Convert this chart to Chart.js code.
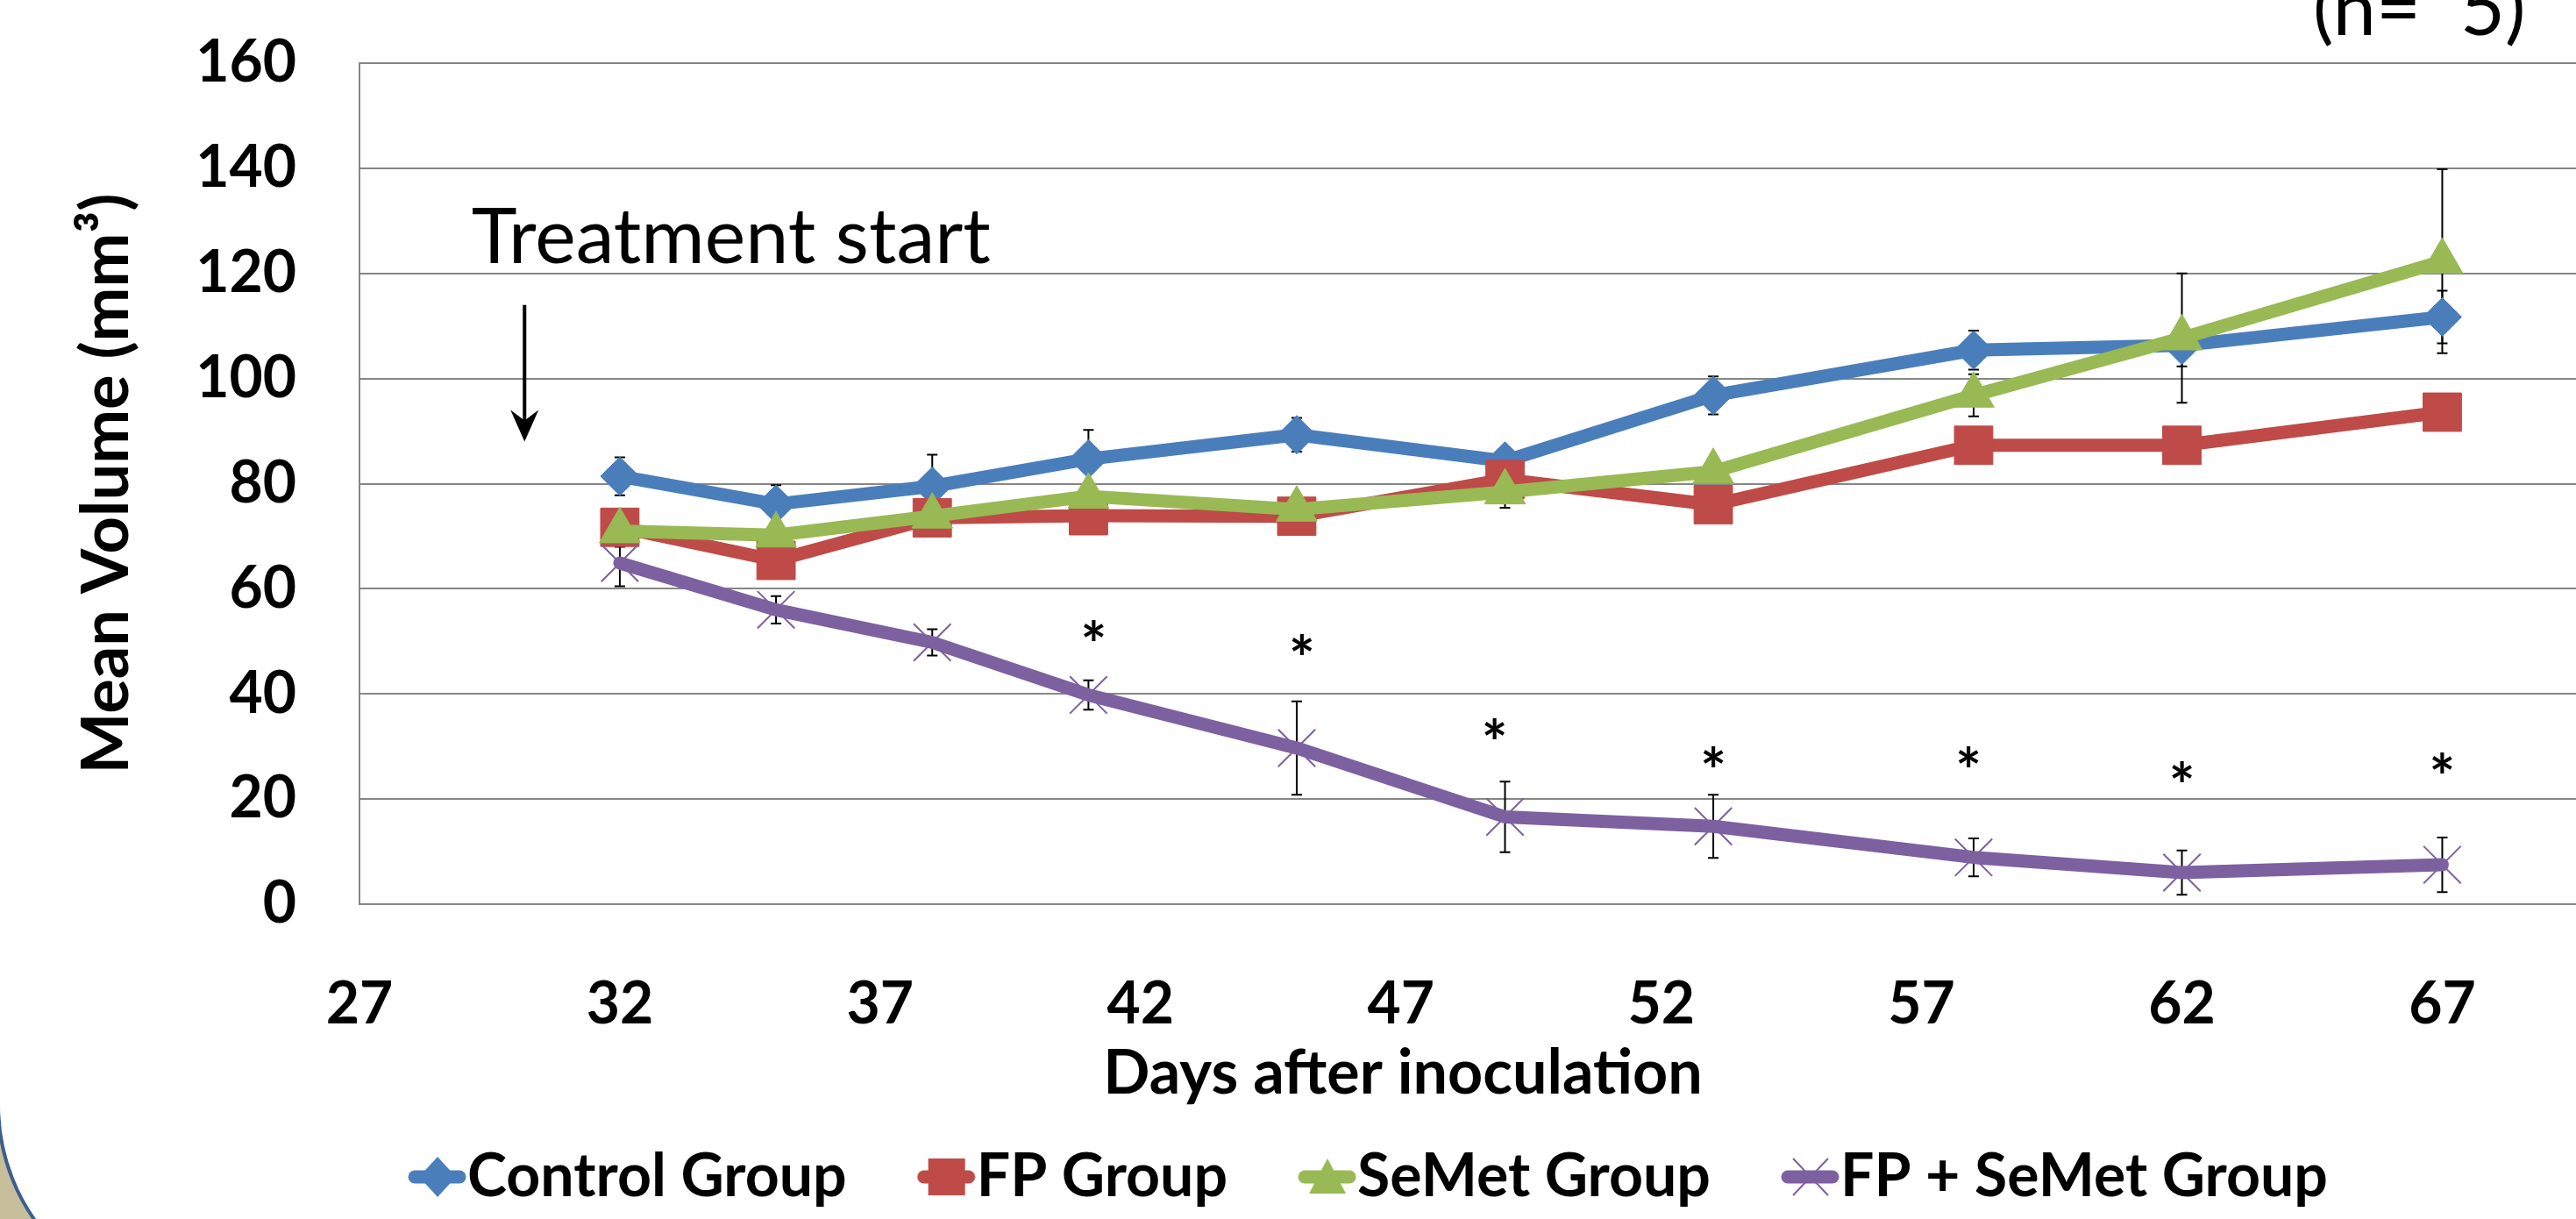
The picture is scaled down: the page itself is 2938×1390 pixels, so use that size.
<!DOCTYPE html>
<html>
<head>
<meta charset="utf-8">
<title>Mean tumour volume</title>
<script src="https://cdn.jsdelivr.net/npm/chart.js@4.4.1/dist/chart.umd.min.js"></script>
<style>
  html, body { margin: 0; padding: 0; background: #fff; }
  body { width: 2938px; height: 1390px; overflow: hidden; position: relative; }
  /* slide decoration in the lower left corner */
  #corner { position: absolute; left: 0; top: 1150px; width: 300px; height: 240px; background: #C7BF9B; }
  #panel { position: absolute; left: -4px; top: -300px; width: 3400px; height: 1790px; box-sizing: border-box;
           background: #fff; border: 4px solid #3B5F8E; border-radius: 230px; }
  #chart { position: absolute; left: 0; top: 0; }
</style>
</head>
<body>
<div id="corner"></div>
<div id="panel"></div>
<canvas id="chart" width="3055" height="1390"></canvas>
<script>
// days after inoculation where volumes were measured
const days = [32, 35, 38, 41, 45, 49, 53, 58, 62, 67];

// mean volume (mm3) and error per group
const controlGroup = [81.4, 76.1, 79.5, 84.7, 89.3, 84.3, 96.8, 105.4, 106.3, 111.7];
const controlErr   = [3.6, 3.6, 6.0, 5.5, 3.2, 2.4, 3.6, 3.7, 4.0, 5.0];
const fpGroup      = [71.7, 65.4, 73.5, 73.9, 73.8, 80.8, 76.0, 87.3, 87.3, 93.6];
const fpErr        = [3.0, 2.5, 3.0, 3.0, 2.5, 3.0, 2.5, 3.0, 3.0, 3.0];
const semetGroup   = [71.0, 70.2, 73.8, 77.6, 75.1, 78.4, 82.3, 96.8, 107.7, 122.3];
const semetErr     = [3.0, 2.5, 3.0, 2.5, 2.4, 3.0, 2.0, 4.0, 12.3, 17.5];
const comboGroup   = [64.9, 56.0, 49.8, 39.8, 29.7, 16.6, 14.8, 8.9, 6.0, 7.5];
const comboErr     = [4.4, 2.6, 2.5, 2.8, 8.9, 6.7, 6.0, 3.6, 4.2, 5.2];

// significance marks (*) above the FP + SeMet group
const sigDays   = [41.1, 45.1, 48.8, 53, 57.9, 62, 67];
const sigLevels = [52.1, 49.4, 33.5, 28.1, 28.1, 25.3, 26.9];

const xTicks = [27, 32, 37, 42, 47, 52, 57, 62, 67];
const yTicks = [0, 20, 40, 60, 80, 100, 120, 140, 160];

const seriesNames  = ['Control Group', 'FP Group', 'SeMet Group', 'FP + SeMet Group'];
const seriesColors = ['#4A7EBB', '#BE4B48', '#98B954', '#7D60A0'];

Chart.defaults.font.family = 'Lato';
Chart.defaults.color = '#000';

const toPoints = (vals) => vals.map((v, i) => ({ x: days[i], y: v }));

// legend icon: line segment with the marker in the middle, drawn at the right end of the image
const LEGEND_BOX = 104;
function makeIcon(idx) {
    const w = LEGEND_BOX + 66, h = 64;
    const c = document.createElement('canvas');
    c.width = w; c.height = h;
    const g = c.getContext('2d');
    const col = seriesColors[idx];
    const cx = w - 33, cy = h / 2;
    g.strokeStyle = col;
    g.lineWidth = 15;
    g.lineCap = 'round';
    g.beginPath(); g.moveTo(w - 59, cy); g.lineTo(w - 8, cy); g.stroke();
    g.fillStyle = col;
    g.beginPath();
    if (idx === 0) {
        g.moveTo(cx, cy - 23); g.lineTo(cx + 21, cy); g.lineTo(cx, cy + 23); g.lineTo(cx - 21, cy);
        g.closePath(); g.fill();
    } else if (idx === 1) {
        g.rect(cx - 21, cy - 21, 42, 42); g.fill();
    } else if (idx === 2) {
        g.moveTo(cx, cy - 21); g.lineTo(cx + 21, cy + 19); g.lineTo(cx - 21, cy + 19);
        g.closePath(); g.fill();
    } else {
        g.lineWidth = 2; g.lineCap = 'butt';
        g.moveTo(cx - 20, cy - 21); g.lineTo(cx + 20, cy + 21);
        g.moveTo(cx + 20, cy - 21); g.lineTo(cx - 20, cy + 21);
        g.stroke();
    }
    return c;
}
const legendIcons = [0, 1, 2, 3].map(makeIcon);

// error bars go under the lines and markers
const errorBars = {
    id: 'errorBars',
    beforeDatasetsDraw(chart) {
        const { ctx, scales: { x, y } } = chart;
        ctx.save();
        ctx.strokeStyle = '#000';
        ctx.lineWidth = 2;
        chart.data.datasets.forEach(ds => {
            ds.data.forEach((p, i) => {
                const px = x.getPixelForValue(p.x);
                const top = y.getPixelForValue(p.y + ds.errors[i]);
                const bot = y.getPixelForValue(p.y - ds.errors[i]);
                ctx.beginPath();
                ctx.moveTo(px, top); ctx.lineTo(px, bot);
                ctx.moveTo(px - 6, top); ctx.lineTo(px + 6, top);
                ctx.moveTo(px - 6, bot); ctx.lineTo(px + 6, bot);
                ctx.stroke();
            });
        });
        ctx.restore();
    }
};

// asterisks, treatment arrow and the extra labels
const notes = {
    id: 'notes',
    afterDraw(chart) {
        const { ctx, chartArea, scales: { x, y } } = chart;
        ctx.save();
        ctx.fillStyle = '#000';

        // centre each asterisk glyph on its level
        ctx.font = 'bold 70px Lato';
        ctx.textAlign = 'center';
        ctx.textBaseline = 'alphabetic';
        const m = ctx.measureText('*');
        const lift = (m.actualBoundingBoxAscent - m.actualBoundingBoxDescent) / 2;
        sigDays.forEach((d, i) => {
            ctx.fillText('*', x.getPixelForValue(d), y.getPixelForValue(sigLevels[i]) + lift);
        });

        ctx.font = '88px Lato';
        ctx.textAlign = 'left';
        ctx.fillText('Treatment start', x.getPixelForValue(29.15), y.getPixelForValue(121.9));

        // arrow pointing down at treatment start
        const ax = x.getPixelForValue(30.17);
        const aTop = y.getPixelForValue(114);
        const aTip = y.getPixelForValue(88);
        ctx.strokeStyle = '#000';
        ctx.lineWidth = 4;
        ctx.beginPath(); ctx.moveTo(ax, aTop); ctx.lineTo(ax, aTip - 20); ctx.stroke();
        ctx.beginPath();
        ctx.moveTo(ax, aTip);
        ctx.lineTo(ax - 16, aTip - 36);
        ctx.lineTo(ax, aTip - 24);
        ctx.lineTo(ax + 16, aTip - 36);
        ctx.closePath(); ctx.fill();

        ctx.font = '88px Lato';
        ctx.fillText('(n=  5)', chartArea.left + 2228, chartArea.top - 32);

        ctx.font = 'bold 70px Lato';
        ctx.textAlign = 'center';
        ctx.fillText('Days after inoculation', chartArea.left + 1190, chartArea.bottom + 216);
        ctx.restore();
    }
};

const markerStyles = ['rectRot', 'rect', 'triangle', 'crossRot'];
const markerRadius = [22, 31, 27, 30];
const seriesValues = [controlGroup, fpGroup, semetGroup, comboGroup];
const seriesErrors = [controlErr, fpErr, semetErr, comboErr];

const datasets = seriesNames.map((name, i) => ({
    label: name,
    data: toPoints(seriesValues[i]),
    errors: seriesErrors[i],
    borderColor: seriesColors[i],
    backgroundColor: seriesColors[i],
    borderWidth: 15,
    borderJoinStyle: 'round',
    borderCapStyle: 'round',
    tension: 0,
    pointStyle: markerStyles[i],
    pointRadius: markerRadius[i],
    pointHoverRadius: markerRadius[i],
    pointBackgroundColor: seriesColors[i],
    pointBorderColor: seriesColors[i],
    pointBorderWidth: i === 3 ? 2 : 1,
    order: 4 - i
}));

new Chart(document.getElementById('chart'), {
    type: 'line',
    data: { datasets: datasets },
    options: {
        responsive: false,
        animation: false,
        events: [],
        layout: { padding: { top: 72, left: 0, right: 5, bottom: 4 } },
        scales: {
            x: {
                type: 'linear',
                min: 27,
                max: 71,
                afterBuildTicks: s => { s.ticks = xTicks.map(v => ({ value: v })); },
                afterFit: s => { s.height = 267; },
                ticks: { padding: 75, autoSkip: false, maxRotation: 0, color: '#000', font: { size: 66, weight: 'bold' } },
                grid: { display: false, drawTicks: false },
                border: { display: false }
            },
            y: {
                min: 0,
                max: 160,
                afterBuildTicks: s => { s.ticks = yTicks.map(v => ({ value: v })); },
                afterFit: s => { s.width = 410; },
                // gap between labels and axis comes from an invisible tick mark
                ticks: { padding: 0, color: '#000', font: { size: 66, weight: 'bold' } },
                grid: { color: '#868686', lineWidth: 2, drawTicks: true, tickLength: 72, tickColor: 'rgba(0,0,0,0)' },
                border: { display: true, color: '#868686', width: 2 },
                title: {
                    display: true,
                    text: 'Mean Volume (mm³)',
                    color: '#000',
                    font: { size: 74, weight: 'bold' },
                    padding: { top: 78, bottom: 0 }
                }
            }
        },
        plugins: {
            tooltip: { enabled: false },
            legend: {
                position: 'bottom',
                labels: {
                    usePointStyle: true,
                    pointStyleWidth: LEGEND_BOX,
                    padding: 10,
                    color: '#000',
                    font: { size: 68, weight: 'bold' },
                    sort: (a, b) => a.datasetIndex - b.datasetIndex,
                    generateLabels: chart => {
                        const items = Chart.defaults.plugins.legend.labels.generateLabels(chart);
                        items.forEach(it => { it.pointStyle = legendIcons[it.datasetIndex]; });
                        return items;
                    }
                }
            }
        }
    },
    plugins: [errorBars, notes]
});
</script>
</body>
</html>
